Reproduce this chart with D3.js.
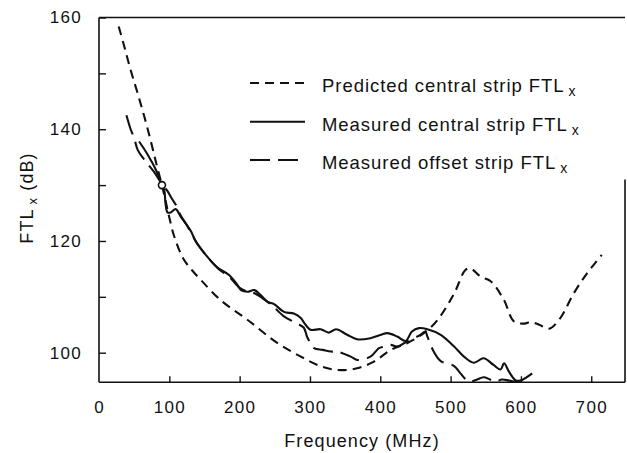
<!DOCTYPE html>
<html>
<head>
<meta charset="utf-8">
<script src="https://cdn.jsdelivr.net/npm/d3@7"></script>
<style>
  html, body { margin: 0; padding: 0; background: #fff; }
  svg { display: block; }
  text { font-family: "Liberation Sans", Arial, Helvetica, sans-serif; fill: #111; }
</style>
</head>
<body>
<svg id="chart" width="627" height="453"></svg>
<script>
// ---- data ----
const xTicks = [0, 100, 200, 300, 400, 500, 600, 700];
const yTicksLabeled = [100, 120, 140, 160];
const yTicksAll = [100, 110, 120, 130, 140, 150, 160];

const freqPred = [28, 36, 45, 55, 65, 75, 82, 89.5, 95, 100, 107, 120, 132, 145, 173, 211, 254, 287, 315, 339, 367, 391, 415, 438, 462, 481, 505, 521, 528, 543, 557, 576, 590, 605, 614, 626, 640, 656, 675, 694, 715];
const ftlPred  = [158.4, 154.8, 150.6, 146.4, 142.0, 137.2, 133.6, 130.0, 127.0, 124.2, 120.8, 116.8, 114.8, 113.0, 109.4, 105.9, 101.7, 99.3, 97.6, 96.9, 97.2, 98.4, 100.5, 101.7, 103.5, 105.8, 110.6, 114.8, 115.1, 113.6, 112.8, 109.4, 105.6, 105.2, 105.5, 105.0, 104.3, 106.2, 110.6, 114.2, 117.5];

const freqCen = [57, 68, 81, 89.5, 93, 94.5, 97.5, 102, 109, 116, 123, 131, 138, 150, 168, 185, 197, 202, 211, 221, 230, 240, 249, 263, 277, 287, 292, 301, 315, 327, 337, 353, 367, 386, 401, 410, 424, 436, 445, 455, 467, 486, 505, 519, 533, 547, 561, 571, 576, 583, 592, 599, 616];
const ftlCen  = [137.8, 135.7, 132.7, 130.0, 129.0, 126.8, 125.1, 125.1, 125.7, 124.4, 123.2, 121.7, 119.8, 117.8, 115.3, 113.9, 112.1, 111.2, 110.9, 111.2, 110.3, 109.1, 108.7, 107.3, 107.0, 106.2, 105.3, 104.1, 104.2, 103.6, 104.2, 103.2, 102.4, 102.6, 103.2, 103.5, 102.9, 102.1, 103.8, 104.4, 104.2, 103.2, 101.1, 99.3, 98.2, 99.0, 97.8, 97.0, 98.1, 96.6, 95.1, 95.0, 96.3];

const freqOff = [39, 45, 50, 55, 64, 78, 89.5, 97, 104, 111, 116, 125, 140, 155, 170, 185, 200, 212, 222, 232, 245, 262, 277, 291, 296, 301, 306, 318, 330, 339, 358, 367, 386, 398, 405, 415, 424, 438, 457, 464, 467, 476, 486, 505, 514, 526, 536, 547, 556, 564, 573, 583, 599];
const ftlOff  = [142.5, 140.0, 138.4, 136.3, 134.6, 132.4, 130.2, 129.0, 127.5, 126.1, 124.6, 122.8, 119.5, 117.0, 115.0, 113.6, 111.6, 110.9, 110.6, 109.8, 108.6, 106.6, 105.5, 104.5, 102.8, 101.7, 100.8, 100.5, 100.2, 100.2, 99.3, 98.7, 99.3, 100.8, 101.1, 101.4, 101.1, 102.0, 103.2, 103.8, 102.9, 100.2, 98.5, 97.6, 96.3, 94.8, 95.1, 95.6, 95.2, 94.8, 95.2, 95.0, 94.6];

const crossPoint = [[89.5, 130.0]];

const legendLabels = ["Predicted central strip FTL", "Measured central strip FTL", "Measured offset strip FTL"];
const legendSub = "x";
const xTitle = "Frequency (MHz)";
const yTitleMain = "FTL";
const yTitleRest = " (dB)";

// ---- layout ----
const svg = d3.select("#chart");
const mLeft = 99, mRight = 625, mTop = 17.5, mBottom = 382.3;
const x = d3.scaleLinear().domain([0, 748]).range([mLeft, mRight]);
const y = d3.scaleLinear().domain([94.7, 160]).range([mBottom, mTop]);

svg.append("rect").attr("width", 627).attr("height", 453).attr("fill", "#fff");

svg.append("defs").append("clipPath").attr("id", "plotclip")
  .append("rect").attr("x", mLeft).attr("y", mTop).attr("width", mRight - mLeft).attr("height", mBottom - mTop);

const ink = "#111";

// frame: left, bottom, top, partial right
const frame = svg.append("g").attr("stroke", ink).attr("stroke-width", 1.6).attr("fill", "none");
frame.append("line").attr("x1", mLeft).attr("x2", mLeft).attr("y1", mTop).attr("y2", mBottom);
frame.append("line").attr("x1", mLeft).attr("x2", mRight).attr("y1", mBottom).attr("y2", mBottom);
frame.append("line").attr("x1", mLeft).attr("x2", mRight).attr("y1", mTop).attr("y2", mTop);
frame.append("line").attr("x1", mRight).attr("x2", mRight).attr("y1", y(131)).attr("y2", mBottom);

// axes via d3
const yAxisG = svg.append("g").attr("transform", `translate(${mLeft},0)`)
  .call(d3.axisRight(y).tickValues(yTicksAll).tickSize(7).tickFormat(""));
yAxisG.select(".domain").remove();
yAxisG.selectAll("line").attr("stroke", ink).attr("stroke-width", 1.4);

const yLab = svg.append("g").attr("transform", `translate(${mLeft},0)`)
  .call(d3.axisLeft(y).tickValues(yTicksLabeled).tickSize(0).tickPadding(17));
yLab.select(".domain").remove();
yLab.selectAll("text").attr("font-size", 17).attr("fill", ink)
  .attr("font-family", "Liberation Sans, Arial, sans-serif").style("letter-spacing", "1.3px");

const xAxisG = svg.append("g").attr("transform", `translate(0,${mBottom})`)
  .call(d3.axisTop(x).tickValues(xTicks.filter(d => d > 0)).tickSize(6).tickFormat(""));
xAxisG.select(".domain").remove();
xAxisG.selectAll("line").attr("stroke", ink).attr("stroke-width", 1.4);

const xLab = svg.append("g").attr("transform", `translate(0,${mBottom})`)
  .call(d3.axisBottom(x).tickValues(xTicks).tickSize(0).tickPadding(19));
xLab.select(".domain").remove();
xLab.selectAll("text").attr("font-size", 17).attr("fill", ink)
  .attr("font-family", "Liberation Sans, Arial, sans-serif").style("letter-spacing", "1.3px");

// titles
svg.append("text").attr("x", 362).attr("y", 447).attr("text-anchor", "middle")
  .attr("font-size", 18).style("letter-spacing", "1.1px").text(xTitle);

const yt = svg.append("text").attr("transform", "translate(33,198) rotate(-90)")
  .attr("text-anchor", "middle").attr("font-size", 18).style("letter-spacing", "1.1px");
yt.append("tspan").text(yTitleMain);
yt.append("tspan").attr("dx", 4).attr("dy", 4).attr("font-size", 13).text(legendSub);
yt.append("tspan").attr("dy", -4).text(yTitleRest);

// lines
const line = d3.line().x(d => x(d[0])).y(d => y(d[1])).curve(d3.curveCatmullRom.alpha(0.5));
const series = [
  { xs: freqPred, ys: ftlPred, dash: "9,6" },
  { xs: freqCen, ys: ftlCen, dash: null },
  { xs: freqOff, ys: ftlOff, dash: "20,8" }
];
const plot = svg.append("g").attr("clip-path", "url(#plotclip)");
series.forEach(s => {
  const pts = s.xs.map((v, i) => [v, s.ys[i]]);
  plot.append("path").datum(pts).attr("d", line)
    .attr("fill", "none").attr("stroke", ink).attr("stroke-width", 2.1)
    .attr("stroke-linejoin", "round")
    .attr("stroke-dasharray", s.dash);
});
plot.selectAll("circle.cross").data(crossPoint).enter().append("circle")
  .attr("cx", d => x(d[0])).attr("cy", d => y(d[1])).attr("r", 3.5)
  .attr("fill", "#fff").attr("stroke", ink).attr("stroke-width", 1.6);

// legend
const legY = [83, 121.7, 160];
legendLabels.forEach((lab, i) => {
  svg.append("line").attr("x1", 250).attr("x2", 305).attr("y1", legY[i]).attr("y2", legY[i])
    .attr("stroke", ink).attr("stroke-width", 2.1)
    .attr("stroke-dasharray", series[i].dash);
  const t = svg.append("text").attr("x", 322).attr("y", legY[i] + 9)
    .attr("font-size", 18.5).style("letter-spacing", "0.95px");
  t.append("tspan").text(lab);
  t.append("tspan").attr("dx", 4).attr("dy", 4).attr("font-size", 14).text(legendSub);
});
</script>
</body>
</html>
